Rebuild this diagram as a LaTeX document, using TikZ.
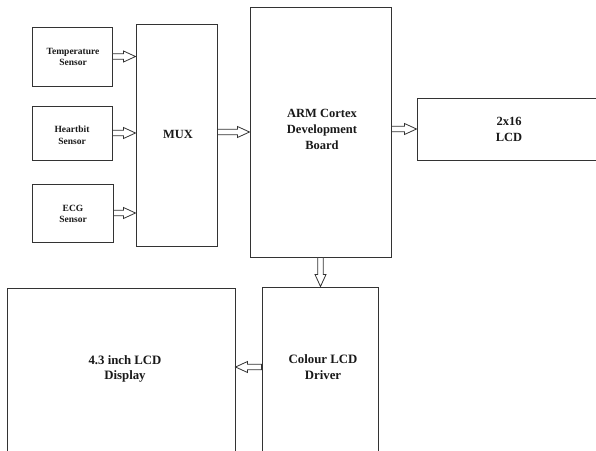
\documentclass[tikz,border=0pt]{standalone}
\usepackage{fontspec}
\setmainfont{Liberation Serif}
\usetikzlibrary{calc}
\tikzset{
  box/.style={draw=black!80, line width=1pt, rectangle, inner sep=0pt},
  lbl/.style={font=\bfseries, align=center, inner sep=0pt, text=black!90},
  blk/.style={draw=black!80, line width=0.8pt, fill=white, line join=miter,
    to path={
      ($(\tikztostart)!2.8pt!90:(\tikztotarget)$) --
      ($(\tikztotarget)!12pt!(\tikztostart)!2.8pt!90:(\tikztotarget)$) --
      ($(\tikztotarget)!12pt!(\tikztostart)!5.5pt!90:(\tikztotarget)$) --
      (\tikztotarget) --
      ($(\tikztotarget)!12pt!(\tikztostart)!5.5pt!-90:(\tikztotarget)$) --
      ($(\tikztotarget)!12pt!(\tikztostart)!2.8pt!-90:(\tikztotarget)$) --
      ($(\tikztostart)!2.8pt!-90:(\tikztotarget)$) -- cycle
    }}
}
\begin{document}
\begin{tikzpicture}[x=1pt,y=-1pt]
\useasboundingbox (0,0) rectangle (596,450);
\clip (0,0) rectangle (596,450);
\fill[white] (0,0) rectangle (596,450);
% boxes
\node[box, minimum width=80pt, minimum height=59pt] (temp) at (72,56.5) {};
\node[box, minimum width=80pt, minimum height=54pt] (heart) at (72,133) {};
\node[box, minimum width=81pt, minimum height=58pt] (ecg) at (72.5,213) {};
\node[box, minimum width=81pt, minimum height=222pt] (mux) at (176.5,135) {};
\node[box, minimum width=141pt, minimum height=250pt] (arm) at (320.5,132) {};
\node[box, minimum width=185pt, minimum height=62pt] (lcd) at (509.5,129) {};
\node[box, minimum width=116pt, minimum height=173pt] (drv) at (320,373.5) {};
\node[box, minimum width=228pt, minimum height=172pt] (disp) at (121,374) {};
% labels
\node[lbl, font=\bfseries\fontsize{9.5}{11.7}\selectfont] (ttemp) at (73,57) {Temperature\\Sensor};
\node[lbl, font=\bfseries\fontsize{9.5}{11.7}\selectfont] (theart) at (72,135) {Heartbit\\Sensor};
\node[lbl, font=\bfseries\fontsize{9.5}{11.7}\selectfont] (tecg) at (73,214) {ECG\\Sensor};
\node[lbl, font=\bfseries\fontsize{12.5}{15}\selectfont] (tmux) at (178,134) {MUX};
\node[lbl, font=\bfseries\fontsize{12.5}{16}\selectfont] (tarm) at (322,129) {ARM Cortex\\Development\\Board};
\node[lbl, font=\bfseries\fontsize{12.5}{16}\selectfont] (tlcd) at (509,129) {2x16\\LCD};
\node[lbl, font=\bfseries\fontsize{12.8}{15.7}\selectfont] (tdrv) at (323,367) {Colour LCD\\Driver};
\node[lbl, font=\bfseries\fontsize{12.8}{15.7}\selectfont] (tdisp) at (125,369) {4.3 inch LCD\\Display};
% arrow end points
\coordinate (e1) at (mux.west |- temp.east);
\coordinate (e2) at (mux.west |- heart.east);
\coordinate (e3) at (mux.west |- ecg.east);
\coordinate (s4) at (mux.east |- arm.west);
\coordinate (s5) at (arm.east |- lcd.west);
\coordinate (e6) at (drv.north -| arm.south);
\coordinate (s7) at ([yshift=6.5pt]drv.west);
\coordinate (e7) at (disp.east |- s7);
% arrows
\draw[blk] (temp.east) to (e1);
\draw[blk] (heart.east) to (e2);
\draw[blk] (ecg.east) to (e3);
\draw[blk] (s4) to (arm.west);
\draw[blk] (s5) to (lcd.west);
\draw[blk] (arm.south) to (e6);
\draw[blk] (s7) to (e7);
\end{tikzpicture}
\end{document}
